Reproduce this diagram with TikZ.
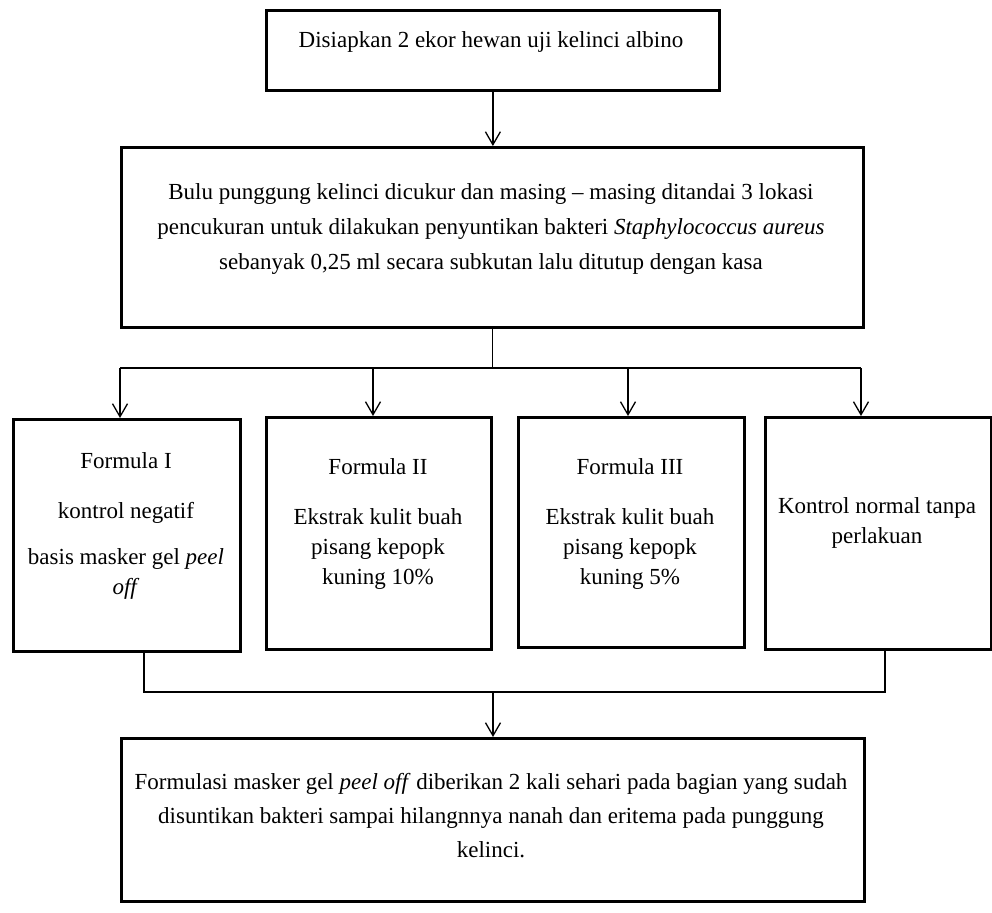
\documentclass[tikz,border=0pt]{standalone}
\usepackage{fontspec}
\setmainfont{Liberation Serif}
\usetikzlibrary{positioning,arrows.meta}

\begin{document}
\begin{tikzpicture}[x=0.5pt,y=-0.5pt,line join=miter,
    box/.style={draw,line width=1.4pt,inner sep=0pt,anchor=north west},
    txt/.style={align=center,inner sep=0pt,anchor=north,font=\fontsize{11.5}{15}\selectfont},
    link/.style={line width=0.65pt},
    arr/.style={link,-{Straight Barb[length=6.5pt,width=7.5pt,line width=0.65pt]}}]
  \useasboundingbox (0,0) rectangle (992,912);
  % boxes
  \node[box,minimum width=226.5pt,minimum height=40pt] (start) at (265,9) {};
  \node[box,minimum width=371pt,minimum height=90pt] (shave) at (120,146) {};
  \node[box,minimum width=113.5pt,minimum height=116pt] (fa) at (12,418) {};
  \node[box,minimum width=112.5pt,minimum height=116pt] (fb) at (265,416) {};
  \node[box,minimum width=113pt,minimum height=115pt] (fc) at (517,416) {};
  \node[box,minimum width=113pt,minimum height=116pt] (fd) at (764,416) {};
  \node[box,minimum width=371.5pt,minimum height=81.5pt] (gel) at (120,737) {};
  % texts
  \node[txt] (tstart) at (491,31) {Disiapkan 2 ekor hewan uji kelinci albino};
  \node[txt] (tshave) at (491,183) {Bulu punggung kelinci dicukur dan masing -- masing ditandai 3 lokasi\\[2.5pt]
    pencukuran untuk dilakukan penyuntikan bakteri \textit{Staphylococcus aureus}\\[2.5pt]
    sebanyak 0,25 ml secara subkutan lalu ditutup dengan kasa};
  \node[txt] (tfa) at (126,452) {Formula I\\[10pt] kontrol negatif\\[8pt] basis masker gel \textit{peel}\\ \textit{off}};
  \node[txt] (tfb) at (378,458) {Formula II\\[10pt] Ekstrak kulit buah\\ pisang kepopk\\ kuning 10\%};
  \node[txt] (tfc) at (630,458) {Formula III\\[10pt] Ekstrak kulit buah\\ pisang kepopk\\ kuning 5\%};
  \node[txt] (tfd) at (877,497) {Kontrol normal tanpa\\ perlakuan};
  \node[txt] (tgel) at (491,773) {Formulasi masker gel \textit{peel off} diberikan 2 kali sehari pada bagian yang sudah\\[2pt]
    disuntikan bakteri sampai hilangnnya nanah dan eritema pada punggung\\[2pt]
    kelinci.};
  % connectors
  \draw[arr] (start.south) -- (start.south |- shave.north);
  \coordinate (s1) at (120,368);
  \coordinate (s2) at (373,368);
  \coordinate (s3) at (628,368);
  \coordinate (s4) at (861,368);
  \draw[link] (shave.south) -- (shave.south |- s1);
  \draw[link] (s1) -- (s4);
  \foreach \s/\f in {s1/fa,s2/fb,s3/fc,s4/fd} {
    \draw[arr] (\s) -- (\s |- \f.north);
  }
  \coordinate (j1) at (144,692);
  \coordinate (j4) at (885,692);
  \coordinate (join) at (493,692);
  \draw[link] (j1 |- fa.south) -- (j1) -- (j4) -- (j4 |- fd.south);
  \draw[arr] (join) -- (join |- gel.north);
\end{tikzpicture}
\end{document}
